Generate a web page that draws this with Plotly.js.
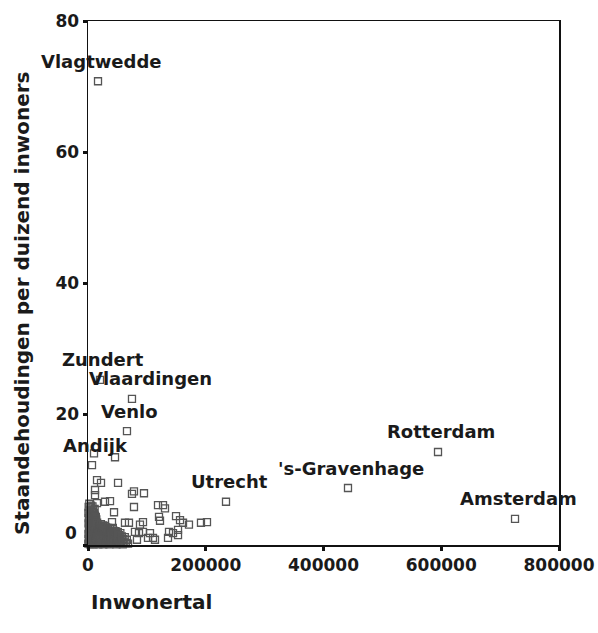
<!DOCTYPE html>
<html>
<head>
<meta charset="utf-8">
<script src="https://cdn.plot.ly/plotly-3.0.1.min.js"></script>
<style>html,body{margin:0;padding:0;background:#fff;}#chart{width:598px;height:633px;}</style>
</head>
<body>
<div id="chart"></div>
<script>
// Labelled municipalities
const labelNames = ["Vlagtwedde", "Zundert", "Vlaardingen", "Venlo", "Andijk", "Utrecht", "'s-Gravenhage", "Rotterdam", "Amsterdam"];
const labelPop   = [17000, 20400, 74700, 66200, 6800, 234400, 441600, 594500, 725300];
const labelRate  = [70.8, 25.2, 22.3, 17.4, 12.2, 6.6, 8.7, 14.2, 4.0];

// Other municipalities
const otherPop = [
  10200,45900,15300,22100,51000,11900,11900,78100,74700,95100,15300,28900,37400,78100,118900,127400,130800,120600,122300,44200,
  40800,62800,69600,93400,88300,93400,79800,86600,105300,110400,101900,113800,83200,137600,135900,144400,152900,152900,149500,156300,
  161400,171500,191900,202100,
  600,1200,800,1500,900,1300,700,1100,2100,2600,2300,2800,2000,2500,2900,2200,3400,3900,3600,4200,3700,4400,3500,4100,4700,5300,5000,5600,4900,5400,5800,5100,
  6200,6700,6400,7000,6600,7300,6900,7600,7900,8300,8000,8600,8200,8800,8500,9300,9700,9400,10000,9600,10200,9900,10600,11000,10800,11400,11100,11700,11300,
  12200,12700,12400,13000,12600,13300,13800,14200,13900,14500,14100,15000,15400,15200,15800,15500,16300,16700,16500,17000,17600,18000,17800,18400,
  19200,19800,19500,20300,20900,21400,21100,22000,22600,23100,22900,23700,24300,24800,24500,25400,26000,26500,26300,27100,27700,28200,28000,28900,29500,30100,
  29800,30800,31400,32000,31700,32800,33400,33100,34200,34800,35500,35200,36300,36900,36600,37700,38300,39000,38700,39700,
  40600,41300,41000,42200,42800,43500,43200,44600,45300,45000,46400,47100,46800,48300,49000,48700,50200,51000,50700,52300,53100,54500,55300,55000,56800,57600,
  59100,60000,61600,62500,64200,66000,68000
];
const otherRate = [
  14.0,13.4,9.9,9.5,9.5,8.4,7.6,8.2,7.8,7.9,6.4,6.6,6.7,5.8,6.1,6.1,5.6,4.3,3.7,5.0,
  3.5,3.4,3.4,3.5,3.1,2.0,2.0,1.8,1.8,1.1,1.1,0.8,0.8,2.0,1.1,1.8,2.3,1.5,4.4,3.8,
  3.4,3.1,3.4,3.5,
  0.2,0.9,1.7,2.5,3.3,4.1,4.9,5.8,0.5,1.3,2.1,2.9,3.7,4.5,5.3,6.3,0.1,0.8,1.6,2.4,3.2,4.0,4.8,5.6,0.4,1.2,2.0,2.8,3.6,4.4,5.2,6.0,
  0.2,1.0,1.8,2.6,3.4,4.2,5.0,5.9,0.6,1.4,2.2,3.0,3.8,4.6,5.4,0.1,0.9,1.7,2.5,3.3,4.1,4.9,0.5,1.3,2.1,2.9,3.7,4.5,5.5,
  0.3,1.1,1.9,2.7,3.5,4.3,0.7,1.5,2.3,3.1,3.9,0.2,1.0,1.8,2.6,3.4,0.6,1.4,2.2,3.0,0.1,0.9,1.7,2.5,
  0.4,1.2,2.0,2.8,0.7,1.6,2.4,3.2,0.2,1.0,1.9,2.7,0.6,1.4,2.2,3.0,0.1,0.9,1.8,2.6,0.5,1.3,2.1,2.9,0.3,1.1,
  1.9,2.7,0.7,1.5,2.3,0.2,1.0,1.8,2.6,0.5,1.3,2.1,0.1,0.9,1.7,2.5,0.4,1.2,2.0,0.8,
  0.3,1.1,1.9,2.6,0.6,1.4,2.2,0.2,1.0,1.8,0.5,1.3,2.1,0.1,0.9,1.7,0.4,1.2,2.0,0.7,1.5,0.2,1.0,1.8,0.5,1.3,
  0.1,0.9,0.4,1.2,0.3,0.8,0.2
];

const xTicks = [0, 200000, 400000, 600000, 800000];
const xTickText = ["0", "200000", "400000", "600000", "800000"];
const yTicks = [0, 20, 40, 60, 80];
const yTickText = ["", "20", "40", "60", "80"];

const xTitle = "Inwonertal";
const yTitle = "Staandehoudingen per duizend inwoners";

const FONT = "DejaVu Sans, Verdana, sans-serif";
const markerStyle = {symbol: "square-open", size: 7, color: "#555", line: {width: 1.3, color: "#555"}};

const traces = [
  {type: "scatter", mode: "markers", x: otherPop, y: otherRate, marker: markerStyle, cliponaxis: false, hoverinfo: "x+y"},
  {type: "scatter", mode: "markers", x: labelPop, y: labelRate, text: labelNames, marker: markerStyle, cliponaxis: false, hoverinfo: "text+x+y"}
];

const labelXShift = {"Vlaardingen": 19};
const annotations = labelNames.map((n, i) => ({
  x: labelPop[i], y: labelRate[i], xref: "x", yref: "y", text: "<b>" + n + "</b>",
  showarrow: false, xanchor: "center", yanchor: "middle",
  xshift: (labelXShift[n] !== undefined ? labelXShift[n] : 3), yshift: 20,
  font: {family: FONT, size: 18, color: "#1a1a1a"}
}));
annotations.push({
  x: 0, y: 0, xref: "paper", yref: "y", text: "<b>0</b>", showarrow: false,
  xanchor: "right", yanchor: "middle", xshift: -9, yshift: 12,
  font: {family: FONT, size: 17, color: "#1a1a1a"}
});
annotations.push({
  x: 0, y: 0, xref: "paper", yref: "paper", text: "<b>" + xTitle + "</b>", showarrow: false,
  xanchor: "left", yanchor: "middle", xshift: 1, yshift: -57,
  font: {family: FONT, size: 20, color: "#1a1a1a"}
});
annotations.push({
  x: 0, y: 0.5, xref: "paper", yref: "paper", text: "<b>" + yTitle + "</b>", showarrow: false,
  textangle: -90, xanchor: "center", yanchor: "middle", xshift: -66, yshift: -20,
  font: {family: FONT, size: 20, color: "#1a1a1a"}
});

const layout = {
  width: 598, height: 633,
  margin: {l: 88, r: 39, t: 21, b: 88},
  paper_bgcolor: "#fff", plot_bgcolor: "#fff",
  showlegend: false,
  xaxis: {
    range: [0, 800000], tickvals: xTicks, ticktext: xTickText,
    showgrid: false, zeroline: false, showline: true, mirror: true,
    linecolor: "#111", linewidth: 1.5,
    ticks: "outside", ticklen: 4, tickwidth: 3, tickcolor: "#111",
    tickfont: {family: FONT, size: 17, color: "#1a1a1a", weight: "bold"}
  },
  yaxis: {
    range: [0, 80], tickvals: yTicks, ticktext: yTickText,
    showgrid: false, zeroline: false, showline: true, mirror: true,
    linecolor: "#111", linewidth: 1.5,
    ticks: "outside", ticklen: 4, tickwidth: 3, tickcolor: "#111",
    tickfont: {family: FONT, size: 17, color: "#1a1a1a", weight: "bold"}
  },
  annotations: annotations
};

Plotly.newPlot("chart", traces, layout, {displayModeBar: false, staticPlot: true});
</script>
</body>
</html>
